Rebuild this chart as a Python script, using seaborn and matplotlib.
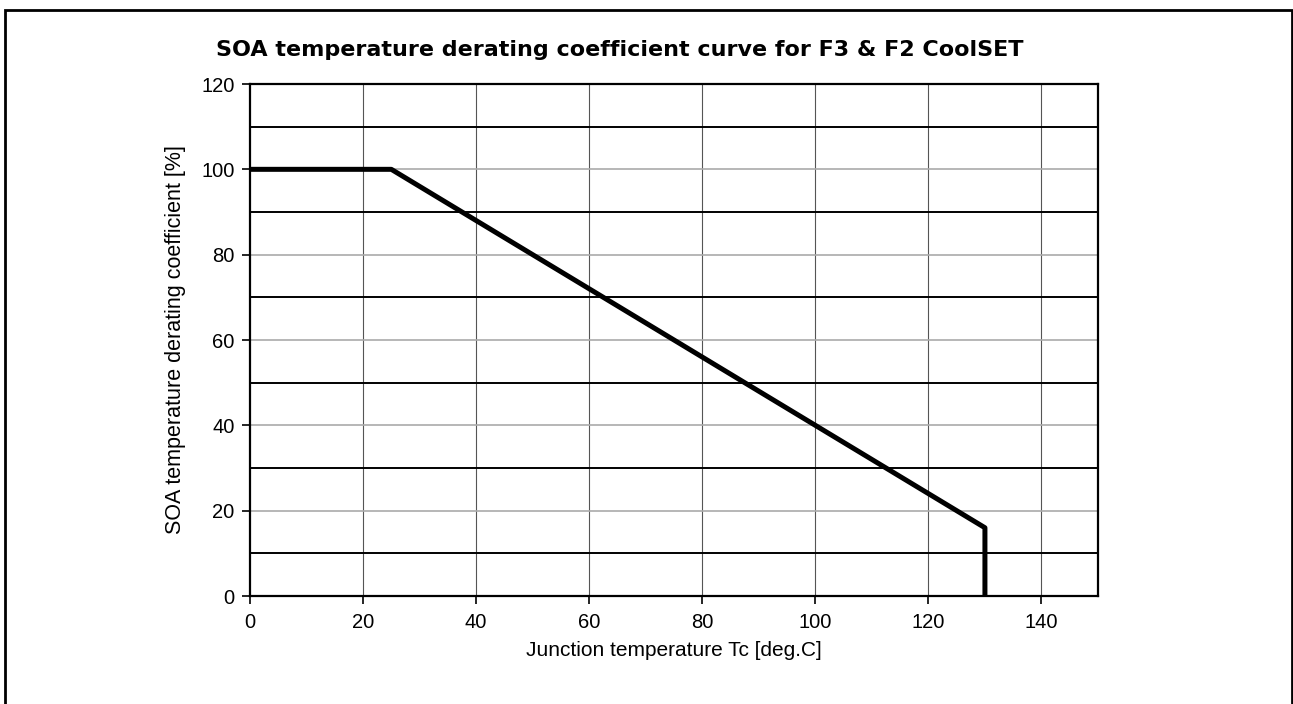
import matplotlib
matplotlib.use("Agg")
import matplotlib.pyplot as plt
import seaborn as sns
import pandas as pd
from matplotlib.patches import Rectangle

temperature = [0, 25, 130, 130]
coefficient = [100, 100, 16, 0]
x_ticks = [0, 20, 40, 60, 80, 100, 120, 140]
y_ticks = [0, 20, 40, 60, 80, 100, 120]
y_minor = [10, 30, 50, 70, 90, 110]

sns.set_theme(style="white")
plt.rcParams['font.family'] = ['Liberation Sans', 'DejaVu Sans']

df = pd.DataFrame({"t": temperature, "c": coefficient})

fig = plt.figure(figsize=(12.93, 7.04), dpi=100)
ax = fig.add_axes([250/1293, 108/704, 848/1293, 512/704])

# grid
for x in x_ticks[1:]:
    ax.axvline(x, color="#555555", lw=0.8, zorder=1)
for y in y_ticks[1:]:
    ax.axhline(y, color="#aaaaaa", lw=1.2, zorder=1)
for y in y_minor:
    ax.axhline(y, color="black", lw=1.4, zorder=1)

sns.lineplot(data=df, x="t", y="c", ax=ax, color="black", lw=3.6, sort=False,
             estimator=None, zorder=3)

ax.set_xlim(0, 150)
ax.set_ylim(0, 120)
ax.set_xticks(x_ticks)
ax.set_yticks(y_ticks)
ax.tick_params(axis="both", direction="out", length=6, width=1.2, color="black",
               labelsize=14.5, bottom=True, left=True, labelcolor="black")
ax.tick_params(axis="x", pad=6)
ax.tick_params(axis="y", pad=5)
for s in ax.spines.values():
    s.set_color("black")
    s.set_linewidth(1.6)
    s.set_visible(True)

ax.set_xlabel("Junction temperature Tc [deg.C]", fontsize=15, color="black", labelpad=6.5)
ax.set_ylabel("SOA temperature derating coefficient [%]", fontsize=15.5, color="black", labelpad=11)
fig.text(620/1293, 1 - 50/704, "SOA temperature derating coefficient curve for F3 & F2 CoolSET",
         ha="center", va="center", fontsize=16, fontweight="bold", color="black",
         family="DejaVu Sans")

fig.patches.append(Rectangle((5/1293, -0.05), (1292-5)/1293, 1.05 - 10/704,
                             transform=fig.transFigure, fill=False, edgecolor="black",
                             lw=2, figure=fig))

fig.savefig("out.png", dpi=100)
